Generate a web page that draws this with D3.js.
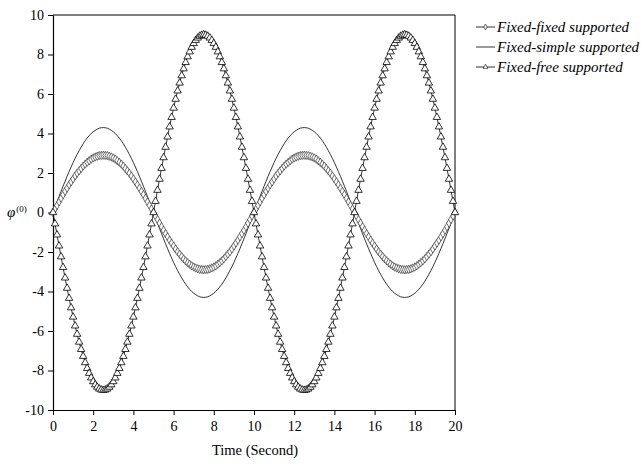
<!DOCTYPE html>
<html>
<head>
<meta charset="utf-8">
<script src="https://cdn.jsdelivr.net/npm/d3@7"></script>
<style>
  html, body { margin: 0; padding: 0; background: #fff; }
  svg { display: block; font-family: "Liberation Serif", "Times New Roman", serif; }
</style>
</head>
<body>
<svg id="chart" width="642" height="464"></svg>
<script>
// Time samples (seconds), 0 to 20 in steps of 0.1
const time = d3.range(0, 201).map(i => +(i * 0.1).toFixed(1));

// Fundamental mode response for each boundary condition
const fixedFixed = [
  0,0.18,0.36,0.54,0.72,0.90,1.07,1.23,1.40,1.55,1.70,1.85,1.99,2.11,2.23,2.35,2.45,2.54,2.62,2.70,2.76,2.81,2.85,2.88,2.89,2.90,2.89,2.88,2.85,2.81,2.76,2.70,2.62,2.54,2.45,2.35,2.23,2.11,1.99,1.85,1.70,1.55,1.40,1.23,1.07,0.90,0.72,0.54,0.36,0.18,0,
  -0.18,-0.36,-0.54,-0.72,-0.90,-1.07,-1.23,-1.40,-1.55,-1.70,-1.85,-1.99,-2.11,-2.23,-2.35,-2.45,-2.54,-2.62,-2.70,-2.76,-2.81,-2.85,-2.88,-2.89,-2.90,-2.89,-2.88,-2.85,-2.81,-2.76,-2.70,-2.62,-2.54,-2.45,-2.35,-2.23,-2.11,-1.99,-1.85,-1.70,-1.55,-1.40,-1.23,-1.07,-0.90,-0.72,-0.54,-0.36,-0.18,0,
  0.18,0.36,0.54,0.72,0.90,1.07,1.23,1.40,1.55,1.70,1.85,1.99,2.11,2.23,2.35,2.45,2.54,2.62,2.70,2.76,2.81,2.85,2.88,2.89,2.90,2.89,2.88,2.85,2.81,2.76,2.70,2.62,2.54,2.45,2.35,2.23,2.11,1.99,1.85,1.70,1.55,1.40,1.23,1.07,0.90,0.72,0.54,0.36,0.18,0,
  -0.18,-0.36,-0.54,-0.72,-0.90,-1.07,-1.23,-1.40,-1.55,-1.70,-1.85,-1.99,-2.11,-2.23,-2.35,-2.45,-2.54,-2.62,-2.70,-2.76,-2.81,-2.85,-2.88,-2.89,-2.90,-2.89,-2.88,-2.85,-2.81,-2.76,-2.70,-2.62,-2.54,-2.45,-2.35,-2.23,-2.11,-1.99,-1.85,-1.70,-1.55,-1.40,-1.23,-1.07,-0.90,-0.72,-0.54,-0.36,-0.18,0
];

const fixedSimple = [
  0,0.27,0.54,0.81,1.07,1.33,1.58,1.83,2.07,2.30,2.53,2.74,2.94,3.13,3.31,3.48,3.63,3.77,3.89,4.00,4.09,4.16,4.22,4.27,4.29,4.30,4.29,4.27,4.22,4.16,4.09,4.00,3.89,3.77,3.63,3.48,3.31,3.13,2.94,2.74,2.53,2.30,2.07,1.83,1.58,1.33,1.07,0.81,0.54,0.27,0,
  -0.27,-0.54,-0.81,-1.07,-1.33,-1.58,-1.83,-2.07,-2.30,-2.53,-2.74,-2.94,-3.13,-3.31,-3.48,-3.63,-3.77,-3.89,-4.00,-4.09,-4.16,-4.22,-4.27,-4.29,-4.30,-4.29,-4.27,-4.22,-4.16,-4.09,-4.00,-3.89,-3.77,-3.63,-3.48,-3.31,-3.13,-2.94,-2.74,-2.53,-2.30,-2.07,-1.83,-1.58,-1.33,-1.07,-0.81,-0.54,-0.27,0,
  0.27,0.54,0.81,1.07,1.33,1.58,1.83,2.07,2.30,2.53,2.74,2.94,3.13,3.31,3.48,3.63,3.77,3.89,4.00,4.09,4.16,4.22,4.27,4.29,4.30,4.29,4.27,4.22,4.16,4.09,4.00,3.89,3.77,3.63,3.48,3.31,3.13,2.94,2.74,2.53,2.30,2.07,1.83,1.58,1.33,1.07,0.81,0.54,0.27,0,
  -0.27,-0.54,-0.81,-1.07,-1.33,-1.58,-1.83,-2.07,-2.30,-2.53,-2.74,-2.94,-3.13,-3.31,-3.48,-3.63,-3.77,-3.89,-4.00,-4.09,-4.16,-4.22,-4.27,-4.29,-4.30,-4.29,-4.27,-4.22,-4.16,-4.09,-4.00,-3.89,-3.77,-3.63,-3.48,-3.31,-3.13,-2.94,-2.74,-2.53,-2.30,-2.07,-1.83,-1.58,-1.33,-1.07,-0.81,-0.54,-0.27,0
];

const fixedFree = [
  0,-0.57,-1.13,-1.69,-2.24,-2.78,-3.31,-3.83,-4.34,-4.82,-5.29,-5.74,-6.16,-6.56,-6.93,-7.28,-7.60,-7.89,-8.14,-8.37,-8.56,-8.72,-8.84,-8.93,-8.98,-9.00,-8.98,-8.93,-8.84,-8.72,-8.56,-8.37,-8.14,-7.89,-7.60,-7.28,-6.93,-6.56,-6.16,-5.74,-5.29,-4.82,-4.34,-3.83,-3.31,-2.78,-2.24,-1.69,-1.13,-0.57,0,
  0.57,1.13,1.69,2.24,2.78,3.31,3.83,4.34,4.82,5.29,5.74,6.16,6.56,6.93,7.28,7.60,7.89,8.14,8.37,8.56,8.72,8.84,8.93,8.98,9.00,8.98,8.93,8.84,8.72,8.56,8.37,8.14,7.89,7.60,7.28,6.93,6.56,6.16,5.74,5.29,4.82,4.34,3.83,3.31,2.78,2.24,1.69,1.13,0.57,0,
  -0.57,-1.13,-1.69,-2.24,-2.78,-3.31,-3.83,-4.34,-4.82,-5.29,-5.74,-6.16,-6.56,-6.93,-7.28,-7.60,-7.89,-8.14,-8.37,-8.56,-8.72,-8.84,-8.93,-8.98,-9.00,-8.98,-8.93,-8.84,-8.72,-8.56,-8.37,-8.14,-7.89,-7.60,-7.28,-6.93,-6.56,-6.16,-5.74,-5.29,-4.82,-4.34,-3.83,-3.31,-2.78,-2.24,-1.69,-1.13,-0.57,0,
  0.57,1.13,1.69,2.24,2.78,3.31,3.83,4.34,4.82,5.29,5.74,6.16,6.56,6.93,7.28,7.60,7.89,8.14,8.37,8.56,8.72,8.84,8.93,8.98,9.00,8.98,8.93,8.84,8.72,8.56,8.37,8.14,7.89,7.60,7.28,6.93,6.56,6.16,5.74,5.29,4.82,4.34,3.83,3.31,2.78,2.24,1.69,1.13,0.57,0
];

const xTicks = [0, 2, 4, 6, 8, 10, 12, 14, 16, 18, 20];
const yTicks = [-10, -8, -6, -4, -2, 0, 2, 4, 6, 8, 10];
const seriesNames = ["Fixed-fixed supported", "Fixed-simple supported", "Fixed-free supported"];

const svg = d3.select("#chart");
const plot = { left: 53, right: 455, top: 15, bottom: 410 };
const serif = "'Liberation Serif', 'Times New Roman', serif";

const x = d3.scaleLinear().domain([0, 20]).range([plot.left, plot.right]);
const y = d3.scaleLinear().domain([-10, 10]).range([plot.bottom, plot.top]);

// Frame: top and right edges
svg.append("path")
  .attr("d", `M${plot.left},${plot.top}H${plot.right}V${plot.bottom}`)
  .attr("fill", "none").attr("stroke", "#000").attr("stroke-width", 1);

const plain = d => String(d);
const xAxis = svg.append("g")
  .attr("transform", `translate(0,${plot.bottom})`)
  .call(d3.axisBottom(x).tickValues(xTicks).tickSize(5).tickSizeOuter(0).tickFormat(plain));
const yAxis = svg.append("g")
  .attr("transform", `translate(${plot.left},0)`)
  .call(d3.axisLeft(y).tickValues(yTicks).tickSize(5).tickSizeOuter(0).tickFormat(plain));

[xAxis, yAxis].forEach(g => {
  g.attr("font-family", serif).attr("font-size", 14);
  g.select(".domain").attr("stroke", "#000").attr("stroke-width", 1.2);
  g.selectAll(".tick line").attr("stroke", "#000");
  g.selectAll(".tick text").attr("fill", "#000");
});
xAxis.selectAll(".tick text").attr("dy", "0.95em").attr("y", 8);
yAxis.selectAll(".tick text").attr("x", -9);

// Axis titles
svg.append("text")
  .attr("x", (plot.left + plot.right) / 2 + 1).attr("y", 455)
  .attr("text-anchor", "middle")
  .style("font-size", "14.5px")
  .text("Time (Second)");

const yl = svg.append("text")
  .attr("x", 7).attr("y", 217)
  .style("font-size", "15px");
yl.append("tspan").style("font-style", "italic").text("φ");
yl.append("tspan").attr("dx", 1).attr("dy", -5).style("font-size", "9px").text("(0)");

const rows = time.map((t, i) => ({ t, ff: fixedFixed[i], fs: fixedSimple[i], fr: fixedFree[i] }));
const lineOf = key => d3.line().x(d => x(d.t)).y(d => y(d[key]));

// Fixed-simple: plain line
svg.append("path").datum(rows)
  .attr("d", lineOf("fs"))
  .attr("fill", "none").attr("stroke", "#000").attr("stroke-width", 0.8);

// Fixed-fixed: line with small diamonds
svg.append("path").datum(rows)
  .attr("d", lineOf("ff"))
  .attr("fill", "none").attr("stroke", "#000").attr("stroke-width", 0.7);
const diamond = d3.symbol().type(d3.symbolDiamond).size(20);
svg.append("g").selectAll("path").data(rows).join("path")
  .attr("transform", d => `translate(${x(d.t)},${y(d.ff)})`)
  .attr("d", diamond)
  .attr("fill", "#fff").attr("stroke", "#333").attr("stroke-width", 0.7);

// Fixed-free: line with triangles
svg.append("path").datum(rows)
  .attr("d", lineOf("fr"))
  .attr("fill", "none").attr("stroke", "#000").attr("stroke-width", 0.8);
const tri = d3.symbol().type(d3.symbolTriangle).size(24);
svg.append("g").selectAll("path").data(rows).join("path")
  .attr("transform", d => `translate(${x(d.t)},${y(d.fr)})`)
  .attr("d", tri)
  .attr("fill", "#fff").attr("stroke", "#000").attr("stroke-width", 0.8);

// Legend
const legend = svg.append("g").attr("transform", "translate(474,0)");
const legendY = [27, 47, 67];
seriesNames.forEach((name, i) => {
  const g = legend.append("g").attr("transform", `translate(0,${legendY[i]})`);
  g.append("line").attr("x1", 2).attr("x2", 21).attr("y1", 0).attr("y2", 0)
    .attr("stroke", "#000").attr("stroke-width", 0.8);
  if (i === 0) {
    g.append("path").attr("transform", "translate(11.5,0)")
      .attr("d", d3.symbol().type(d3.symbolDiamond).size(10))
      .attr("fill", "#fff").attr("stroke", "#000").attr("stroke-width", 0.6);
  } else if (i === 2) {
    g.append("path").attr("transform", "translate(11.5,0)")
      .attr("d", d3.symbol().type(d3.symbolTriangle).size(10))
      .attr("fill", "#fff").attr("stroke", "#000").attr("stroke-width", 0.6);
  }
  g.append("text").attr("x", 23).attr("y", 5)
    .style("font-size", "15px").style("font-style", "italic")
    .text(name);
});
</script>
</body>
</html>
